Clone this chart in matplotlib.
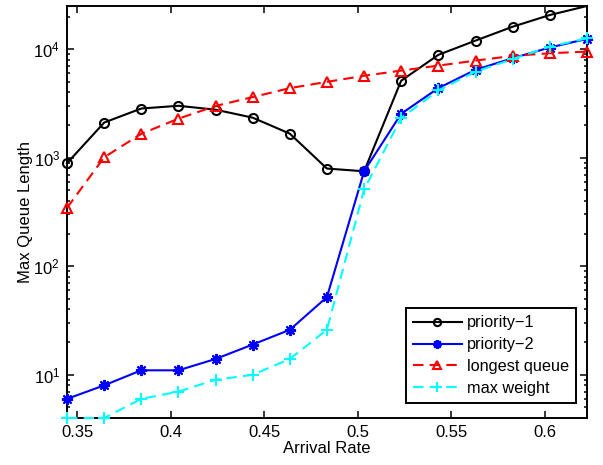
import matplotlib
matplotlib.use("Agg")
import matplotlib.pyplot as plt
from matplotlib.ticker import LogLocator, NullFormatter

DPI = 100

# arrival rates (15 points)
rate = [0.3444, 0.3643, 0.3841, 0.4040, 0.4239, 0.4437, 0.4636, 0.4834,
        0.5033, 0.5231, 0.5430, 0.5629, 0.5827, 0.6026, 0.6225]

priority1 = [890, 2110, 2840, 3010, 2770, 2340, 1665, 795,
             750, 5120, 8870, 12000, 16100, 20650, 25000]
priority2 = [6, 8, 11, 11, 14, 19, 26, 52,
             750, 2540, 4380, 6460, 8260, 10360, 12450]
longest_queue = [345, 1010, 1660, 2290, 3000, 3620, 4380, 5000,
                 5690, 6350, 7060, 7850, 8670, 9180, 9500]
max_weight = [4, 4, 6, 7, 9, 10, 14, 26,
              510, 2320, 4170, 6220, 8100, 10560, 12600]

plt.rcParams['font.family'] = ['Liberation Sans', 'DejaVu Sans']
plt.rcParams['font.size'] = 12
plt.rcParams['mathtext.fontset'] = 'custom'
plt.rcParams['mathtext.rm'] = 'Liberation Sans'
plt.rcParams['mathtext.it'] = 'Liberation Sans'

fig = plt.figure(figsize=(603 / DPI, 465 / DPI), dpi=DPI)
ax = fig.add_axes([67 / 603, 47 / 465, 520 / 603, 412 / 465])

lw = 1.5
cyan = '#00ffff'
# markers at the axes edges are drawn whole, like matlab does;
# the corner marker of priority-1 is hidden there
ax.plot(rate, priority1, c='k', lw=lw, marker='o', ms=6.5, mfc='none',
        mew=1.5, label='priority\u22121', clip_on=False,
        markevery=list(range(len(rate) - 1)))
ax.plot(rate, priority2, c='b', lw=lw, marker=(8, 2, 0), ms=8,
        mew=1.5, label='priority\u22122', clip_on=False)
ax.plot(rate, longest_queue, c='r', lw=lw, ls='--', dashes=(5, 3),
        marker='^', ms=7.5, mfc='none', mew=1.5, label='longest queue',
        clip_on=False)
ax.plot(rate, max_weight, c=cyan, lw=lw, ls='--', dashes=(5, 3),
        marker='+', ms=9, mew=1.5, label='max weight', clip_on=False)

ax.set_yscale('log')
ax.set_xlim(rate[0], rate[-1])
ax.set_ylim(min(max_weight), max(priority1))

ax.yaxis.set_major_locator(LogLocator(base=10, numticks=10))
ax.yaxis.set_minor_locator(LogLocator(base=10, subs=range(2, 10), numticks=10))
ax.yaxis.set_minor_formatter(NullFormatter())
ax.set_xticks([0.35, 0.4, 0.45, 0.5, 0.55, 0.6])
ax.set_xticklabels(['0.35', '0.4', '0.45', '0.5', '0.55', '0.6'])

ax.tick_params(which='both', direction='in', top=True, right=True, width=1.1)
ax.tick_params(which='major', length=5, pad=5)
ax.tick_params(which='minor', length=2.5)
for s in ax.spines.values():
    s.set_linewidth(1.4)
    s.set_zorder(1.5)

ax.set_xlabel('Arrival Rate', labelpad=1)
ax.set_ylabel('Max Queue Length', labelpad=0)

leg = ax.legend(loc='lower right', bbox_to_anchor=(0.979, 0.036),
                borderaxespad=0, fancybox=False, framealpha=1,
                edgecolor='k', handlelength=3.0, labelspacing=0.42,
                handletextpad=0.3, borderpad=0.45, markerscale=0.8,
                fontsize=11.7)
leg.get_frame().set_linewidth(1.4)

fig.savefig('out.png', dpi=DPI)
